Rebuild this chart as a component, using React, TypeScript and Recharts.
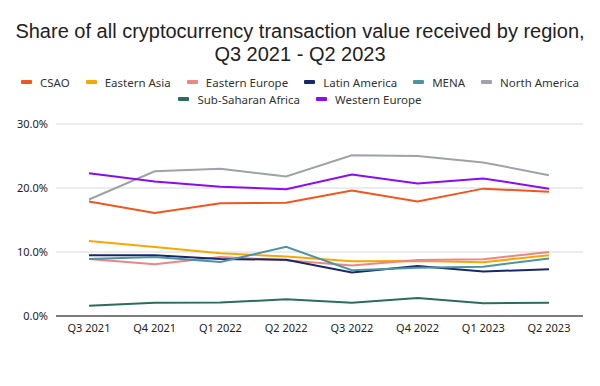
import { CartesianGrid, Line, LineChart, XAxis, YAxis } from "recharts";

const quarters = ["Q3 2021", "Q4 2021", "Q1 2022", "Q2 2022", "Q3 2022", "Q4 2022", "Q1 2023", "Q2 2023"];

const csao = [17.9, 16.1, 17.6, 17.7, 19.6, 17.9, 19.9, 19.4];
const easternAsia = [11.7, 10.8, 9.8, 9.3, 8.55, 8.6, 8.4, 9.5];
const easternEurope = [8.9, 8.1, 9.2, 8.7, 7.9, 8.75, 8.85, 10.0];
const latinAmerica = [9.5, 9.5, 8.9, 8.8, 6.8, 7.8, 6.95, 7.3];
const mena = [8.9, 9.2, 8.45, 10.8, 7.15, 7.55, 7.7, 9.0];
const northAmerica = [18.2, 22.6, 23.0, 21.8, 25.1, 25.0, 24.0, 22.0];
const subSaharanAfrica = [1.6, 2.07, 2.1, 2.6, 2.07, 2.8, 2.0, 2.07];
const westernEurope = [22.3, 21.0, 20.2, 19.8, 22.1, 20.7, 21.5, 19.9];

const yTicks = [0, 10, 20, 30];

const SERIES = [
  { key: "csao", name: "CSAO", values: csao, color: "#f0561d" },
  { key: "easternAsia", name: "Eastern Asia", values: easternAsia, color: "#f6a800" },
  { key: "easternEurope", name: "Eastern Europe", values: easternEurope, color: "#ee8585" },
  { key: "latinAmerica", name: "Latin America", values: latinAmerica, color: "#17286a" },
  { key: "mena", name: "MENA", values: mena, color: "#4d93a6" },
  { key: "northAmerica", name: "North America", values: northAmerica, color: "#9da3ab" },
  { key: "subSaharanAfrica", name: "Sub-Saharan Africa", values: subSaharanAfrica, color: "#2d6d5b" },
  { key: "westernEurope", name: "Western Europe", values: westernEurope, color: "#8a0cf2" },
];

const data = quarters.map((q, i) => {
  const row: Record<string, string | number> = { quarter: q };
  SERIES.forEach((s) => (row[s.key] = s.values[i]));
  return row;
});

const FONT = "'Noto Sans', sans-serif";
const TITLE_FONT = "'Liberation Sans', Arial, sans-serif";

function LegendItem({ name, color }: { name: string; color: string }) {
  return (
    <span style={{ display: "flex", alignItems: "center", margin: "0 8px" }}>
      <span style={{ width: 11, height: 4, background: color, borderRadius: 1, marginRight: 8 }} />
      {name}
    </span>
  );
}

const rowStyle = { display: "flex", justifyContent: "center", height: 17, alignItems: "center" } as const;
const titleStyle = { height: 22.5, lineHeight: "22.5px", whiteSpace: "nowrap" } as const;

export default function App() {
  return (
    <div style={{ position: "fixed", top: 0, left: 0, width: 600, height: 386, background: "#fff", fontFamily: FONT, color: "#222" }}>
      <div style={{ position: "absolute", top: 20, left: 0, width: 600, textAlign: "center", fontSize: 20, fontFamily: TITLE_FONT }}>
        <div style={titleStyle}>Share of all cryptocurrency transaction value received by region,</div>
        <div style={titleStyle}>Q3 2021 - Q2 2023</div>
      </div>
      <div style={{ position: "absolute", top: 73.5, left: 0, width: 600, fontSize: 11.5, color: "#333" }}>
        <div style={rowStyle}>
          {SERIES.slice(0, 6).map((s) => <LegendItem key={s.key} name={s.name} color={s.color} />)}
        </div>
        <div style={rowStyle}>
          {SERIES.slice(6).map((s) => <LegendItem key={s.key} name={s.name} color={s.color} />)}
        </div>
      </div>
      <div style={{ position: "absolute", top: 0, left: 0 }}>
        <LineChart width={600} height={386} data={data} margin={{ top: 124, right: 17, left: 0, bottom: 40 }}>
          <CartesianGrid vertical={false} stroke="#d9d9d9" />
          <XAxis
            dataKey="quarter"
            tickLine={false}
            axisLine={{ stroke: "#595959", strokeWidth: 1.5 }}
            padding={{ left: 33, right: 34 }}
            tick={{ fill: "#222", fontSize: 11, fontFamily: FONT }}
            height={30}
          />
          <YAxis
            domain={[0, 30]}
            ticks={yTicks}
            width={56}
            axisLine={false}
            tickLine={false}
            tickFormatter={(v: number) => `${v.toFixed(1)}%`}
            tick={{ fill: "#222", fontSize: 11, fontFamily: FONT }}
          />
          {SERIES.map((s) => (
            <Line
              key={s.key}
              dataKey={s.key}
              name={s.name}
              stroke={s.color}
              strokeWidth={2}
              dot={false}
              type="linear"
              isAnimationActive={false}
            />
          ))}
        </LineChart>
      </div>
    </div>
  );
}
